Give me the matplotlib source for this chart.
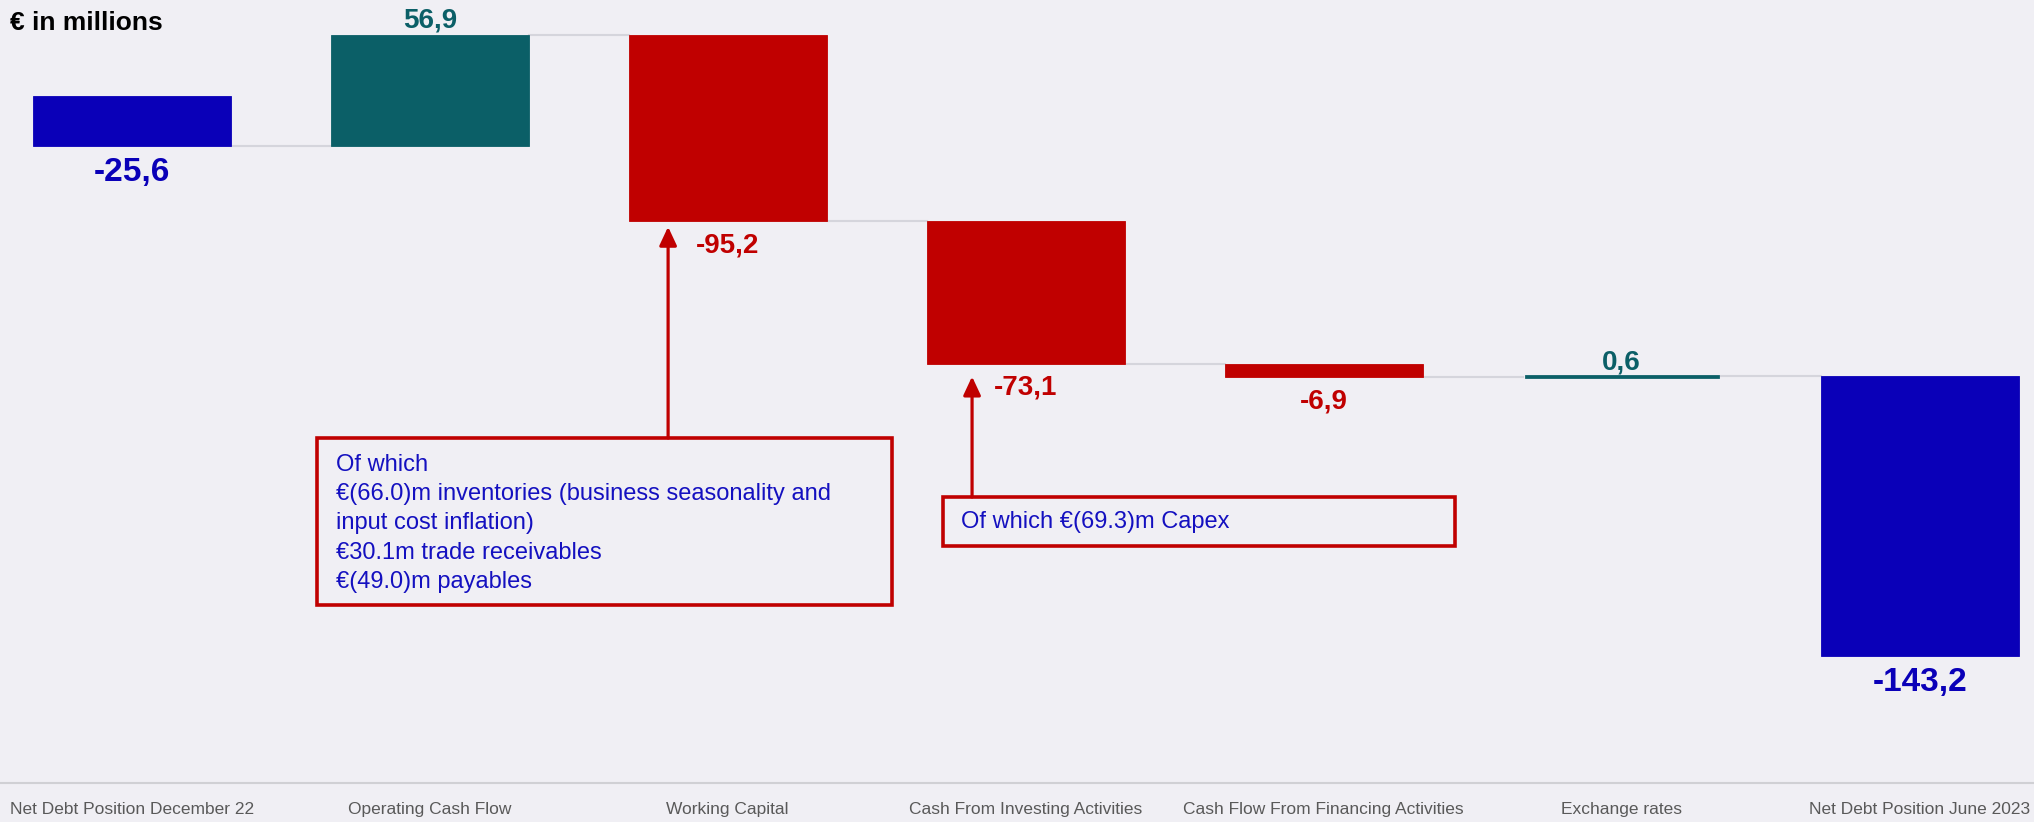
import matplotlib.pyplot as plt
import matplotlib.transforms as mtransforms
from matplotlib.patches import Rectangle

plt.rcParams['font.family'] = ['Liberation Sans', 'DejaVu Sans']

categories = ["Net Debt Position December 22", "Operating Cash Flow", "Working Capital",
              "Cash From Investing Activities", "Cash Flow From Financing Activities",
              "Exchange rates", "Net Debt Position June 2023"]
values = [-25.6, 56.9, -95.2, -73.1, -6.9, 0.6, -143.2]
is_total = [True, False, False, False, False, False, True]
value_labels = ["-25,6", "56,9", "-95,2", "-73,1", "-6,9", "0,6", "-143,2"]

box1_lines = ["Of which",
              "€(66.0)m inventories (business seasonality and",
              "input cost inflation)",
              "€30.1m trade receivables",
              "€(49.0)m payables"]
box2_text = "Of which €(69.3)m Capex"

BLUE = '#0A00B8'
TEAL = '#0B5F67'
RED = '#C00000'
BG = '#F0EFF4'
BOX_TEXT = '#1410C0'

W, H = 2034, 822
fig = plt.figure(figsize=(W / 100, H / 100), dpi=100, facecolor=BG)
ax = fig.add_axes([0, 1 - 783 / H, 1, 783 / H], facecolor=BG)

# waterfall bottoms: each bar hangs from the running level
bottoms, colors = [], []
level = 0.0
for i, v in enumerate(values):
    bottoms.append(level)
    if is_total[i]:
        colors.append(BLUE)
    else:
        colors.append(TEAL if v > 0 else RED)
    level = level + v
    if i == len(values) - 2:
        level = round(level, 1)
levels = [b + v for b, v in zip(bottoms, values)]

x = list(range(len(values)))
width = 0.665
for i in x:
    lw = 2.0 if abs(values[i]) < 2 else 0.6
    w = width - 0.02 if abs(values[i]) < 2 else width
    ax.bar(x[i], values[i], bottom=bottoms[i], width=w, color=colors[i],
           edgecolor=colors[i], linewidth=lw, zorder=3)

# connector lines between bars
for i in range(len(values) - 1):
    ax.plot([x[i] + width / 2, x[i + 1] - width / 2], [levels[i], levels[i]],
            color='#D5D5DC', lw=1.5, zorder=2)

# value labels
for i, v in enumerate(values):
    size = 24 if is_total[i] else 20
    top = max(bottoms[i], levels[i])
    bot = min(bottoms[i], levels[i])
    if v > 0:
        ax.annotate(value_labels[i], (x[i], top), xytext=(0, 5), textcoords='offset points',
                    ha='center', va='baseline', fontsize=size, fontweight='bold', color=colors[i])
    else:
        ax.annotate(value_labels[i], (x[i], bot), xytext=(0, -8), textcoords='offset points',
                    ha='center', va='top', fontsize=size, fontweight='bold', color=colors[i])

ax.set_xlim(-131.7 / 298, (W - 131.7) / 298)
ax.set_ylim(-351.4, 49.1)
ax.set_xticks(x)
ax.set_xticklabels(categories, fontsize=12.5, color='#595959')
ax.tick_params(axis='x', length=0, pad=14)
ax.set_yticks([])
for side in ['top', 'left', 'right']:
    ax.spines[side].set_visible(False)
ax.spines['bottom'].set_color('#D0D0D4')
ax.spines['bottom'].set_linewidth(1.5)

fig.text(10 / W, 1 - 23 / H, "€ in millions", fontsize=19, fontweight='bold',
         color='black', ha='left', va='center')

# callout boxes
def px_rect(x0, y0, x1, y1):
    return Rectangle((x0 / W, 1 - y1 / H), (x1 - x0) / W, (y1 - y0) / H,
                     transform=fig.transFigure, fill=False, edgecolor=RED, lw=2.6)

fig.patches.append(px_rect(317, 438, 892, 605))
fig.patches.append(px_rect(943, 497, 1455, 546))

for k, line in enumerate(box1_lines):
    fig.text(336 / W, 1 - (465 + 29.2 * k) / H, line, fontsize=17, color=BOX_TEXT,
             ha='left', va='center')
fig.text(961 / W, 1 - 522 / H, box2_text, fontsize=17, color=BOX_TEXT,
         ha='left', va='center')

# arrows from the boxes up to the bars they explain
blend = mtransforms.blended_transform_factory(ax.transData, fig.transFigure)
arrow_kw = dict(arrowstyle='-|>,head_length=0.75,head_width=0.35', color=RED, lw=2.3,
                mutation_scale=15, shrinkA=0, shrinkB=0)
ax.annotate('', xy=(x[2] - 0.2, levels[2] - 3), xytext=(x[2] - 0.2, 1 - 438 / H),
            textcoords=blend, arrowprops=arrow_kw)
ax.annotate('', xy=(x[3] - 0.18, levels[3] - 6.5), xytext=(x[3] - 0.18, 1 - 497 / H),
            textcoords=blend, arrowprops=arrow_kw)

fig.savefig('out.png', dpi=100, facecolor=BG)
